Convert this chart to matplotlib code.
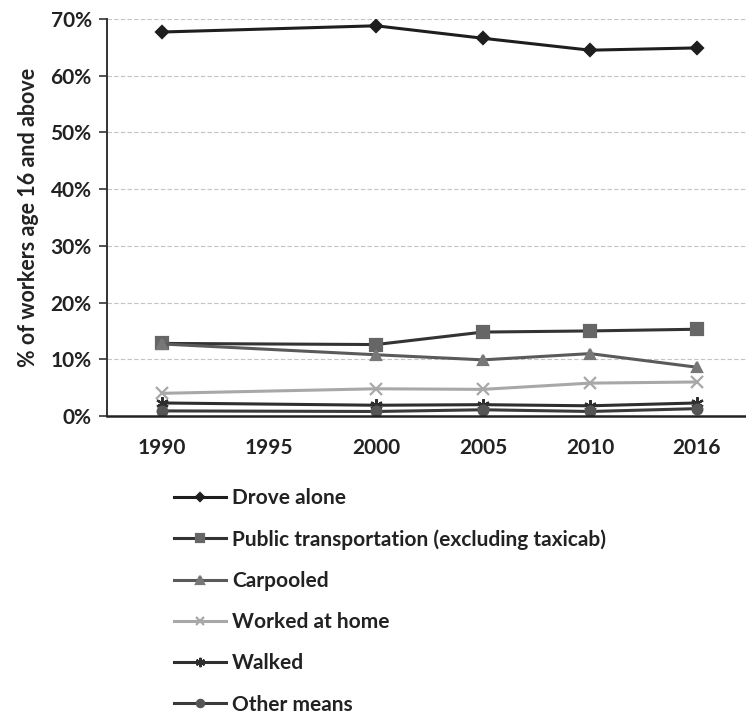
import matplotlib
matplotlib.use('Agg')
import matplotlib.pyplot as plt
import numpy as np

# category axis (Excel style), 1995 has no data
year_labels = ['1990', '1995', '2000', '2005', '2010', '2016']
data_years = ['1990', '2000', '2005', '2010', '2016']

drove_alone = [67.7, 68.8, 66.6, 64.5, 64.9]
public_transport = [12.8, 12.6, 14.8, 15.0, 15.3]
carpooled = [12.7, 10.8, 9.9, 11.0, 8.6]
worked_home = [4.0, 4.8, 4.7, 5.8, 6.0]
walked = [2.3, 1.9, 2.0, 1.8, 2.3]
other_means = [0.9, 0.8, 1.1, 0.8, 1.3]

series = [
    ('Drove alone', drove_alone, '#1e1e1e', 'D', 6, '#1e1e1e'),
    ('Public transportation (excluding taxicab)', public_transport, '#333333', 's', 8, '#666666'),
    ('Carpooled', carpooled, '#5a5a5a', '^', 7, '#777777'),
    ('Worked at home', worked_home, '#a8a8a8', 'x', 8, '#a8a8a8'),
    ('Walked', walked, '#2e2e2e', (6, 2, 0), 9, '#2e2e2e'),
    ('Other means', other_means, '#3a3a3a', 'o', 7, '#555555'),
]

plt.rcParams['font.family'] = ['Lato', 'DejaVu Sans']
text_col = '#222222'

fig = plt.figure(figsize=(7.46, 7.19), dpi=100)
fig.patch.set_facecolor('white')
ax = fig.add_axes([0.1434, 0.4214, 0.8566, 0.5522])

x_idx = [year_labels.index(y) for y in data_years]
for name, vals, col, mk, ms, mcol in series:
    ax.plot(x_idx, vals, color=col, linewidth=2.2, marker=mk, markersize=ms,
            markerfacecolor=mcol, markeredgecolor=mcol, markeredgewidth=1.6,
            label=name)

ax.set_xlim(-0.514, 5.458)
ax.set_ylim(0, 70)
ax.set_xticks(range(len(year_labels)))
ax.set_xticklabels(year_labels, fontsize=15, fontweight='bold', color=text_col)
ax.set_yticks(np.arange(0, 71, 10))
ax.set_yticklabels([f'{v}%' for v in range(0, 71, 10)], fontsize=15,
                   fontweight='bold', color=text_col)
ax.tick_params(axis='x', length=0, pad=16)
ax.tick_params(axis='y', length=6, width=1.2, color='#333333', pad=5)

ax.grid(axis='y', color='#c4c4c4', linestyle=(0, (4, 2)), linewidth=0.8)
ax.set_axisbelow(True)
for s in ['top', 'right']:
    ax.spines[s].set_visible(False)
ax.spines['left'].set_color('#333333')
ax.spines['left'].set_linewidth(1.4)
ax.spines['bottom'].set_color('#222222')
ax.spines['bottom'].set_linewidth(1.8)

ax.set_ylabel('% of workers age 16 and above', fontsize=15.5, fontweight='bold',
              color=text_col, labelpad=8)

leg = fig.legend(loc='upper left', bbox_to_anchor=(0.222, 0.333), frameon=False,
                 fontsize=15, handlelength=2.5, handletextpad=0.3, labelspacing=1.02,
                 borderaxespad=0, markerscale=0.75)
for t in leg.get_texts():
    t.set_fontweight('bold')
    t.set_color(text_col)

fig.savefig('out.png', dpi=100, facecolor='white')
